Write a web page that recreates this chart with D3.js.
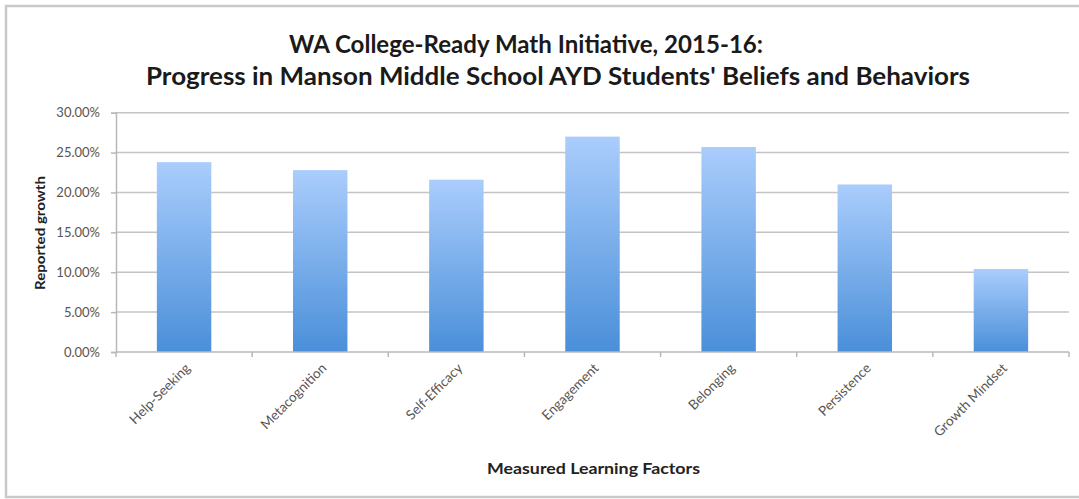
<!DOCTYPE html>
<html>
<head>
<meta charset="utf-8">
<script src="https://cdn.jsdelivr.net/npm/d3@7"></script>
<style>
  html, body { margin: 0; padding: 0; background: #fff; }
  svg { display: block; }
</style>
</head>
<body>
<svg id="chart" width="1079" height="499"></svg>
<script>
// Growth reported per learning factor
const categories = ["Help-Seeking", "Metacognition", "Self-Efficacy", "Engagement", "Belonging", "Persistence", "Growth Mindset"];
const growth = [0.238, 0.228, 0.216, 0.270, 0.257, 0.210, 0.104];
const yTicks = [0, 0.05, 0.10, 0.15, 0.20, 0.25, 0.30];
const titleLines = ["WA College-Ready Math Initiative, 2015-16:", "Progress in Manson Middle School AYD Students' Beliefs and Behaviors"];
const xTitle = "Measured Learning Factors";
const yTitle = "Reported growth";

const svg = d3.select("#chart");
const font = "Lato, 'Open Sans', sans-serif";

const plot = { left: 116, right: 1069, top: 112.7, bottom: 352 };

// outer chart frame
svg.append("rect")
  .attr("x", 6).attr("y", 6)
  .attr("width", 1090).attr("height", 491)
  .attr("fill", "#fff")
  .attr("stroke", "#c9c9c9").attr("stroke-width", 2.5);

const defs = svg.append("defs");
const grad = defs.append("linearGradient")
  .attr("id", "barFill").attr("x1", 0).attr("y1", 0).attr("x2", 0).attr("y2", 1);
grad.append("stop").attr("offset", "0%").attr("stop-color", "#aacdfc");
grad.append("stop").attr("offset", "100%").attr("stop-color", "#4a8fd9");

const x = d3.scaleBand()
  .domain(categories)
  .range([plot.left, plot.right])
  .paddingInner(0.6)
  .paddingOuter(0.3);

const xCat = d3.scaleBand()
  .domain(categories)
  .range([plot.left, plot.right]);

const y = d3.scaleLinear()
  .domain([0, 0.30])
  .range([plot.bottom, plot.top]);

// horizontal gridlines
svg.append("g")
  .selectAll("line")
  .data(yTicks.filter(d => d > 0))
  .join("line")
  .attr("x1", plot.left).attr("x2", plot.right)
  .attr("y1", d => y(d)).attr("y2", d => y(d))
  .attr("stroke", "#c4c4c4").attr("stroke-width", 1.5);

// y axis
const yAxis = svg.append("g")
  .attr("transform", `translate(${plot.left},0)`)
  .call(d3.axisLeft(y).tickValues(yTicks).tickFormat(d3.format(".2%")).tickSize(5).tickPadding(11));
yAxis.select(".domain").attr("stroke", "#b8b8b8").attr("stroke-width", 1.5);
yAxis.selectAll(".tick line").attr("stroke", "#b8b8b8").attr("stroke-width", 1.5);
yAxis.selectAll(".tick text")
  .attr("font-family", font).attr("font-size", 13).attr("fill", "#555");

// bars
svg.append("g")
  .selectAll("rect")
  .data(categories.map((c, i) => ({ c, v: growth[i] })))
  .join("rect")
  .attr("x", d => x(d.c))
  .attr("width", x.bandwidth())
  .attr("y", d => y(d.v))
  .attr("height", d => y(0) - y(d.v))
  .attr("fill", "url(#barFill)");

// x axis with ticks on category boundaries
const xAxis = svg.append("g")
  .attr("transform", `translate(0,${plot.bottom})`);
xAxis.append("line")
  .attr("x1", plot.left).attr("x2", plot.right)
  .attr("stroke", "#b8b8b8").attr("stroke-width", 1.5);
xAxis.selectAll("line.tk")
  .data(categories.map(c => xCat(c)).concat([plot.right]))
  .join("line").attr("class", "tk")
  .attr("x1", d => d).attr("x2", d => d)
  .attr("y1", 0).attr("y2", 5)
  .attr("stroke", "#b8b8b8").attr("stroke-width", 1.5);
xAxis.selectAll("text")
  .data(categories)
  .join("text")
  .attr("transform", d => `translate(${xCat(d) + xCat.bandwidth() / 2 + 7},${17}) rotate(-45)`)
  .attr("text-anchor", "end")
  .attr("font-family", font).attr("font-size", 13.5).attr("fill", "#555")
  .text(d => d);

// titles
const titleSpans = [[289, 763], [146, 970]];
svg.append("g")
  .selectAll("text")
  .data(titleLines)
  .join("text")
  .attr("x", (d, i) => titleSpans[i][0])
  .attr("y", (d, i) => 53 + i * 32)
  .attr("textLength", (d, i) => titleSpans[i][1] - titleSpans[i][0])
  .attr("lengthAdjust", "spacingAndGlyphs")
  .attr("font-family", font).attr("font-weight", "bold").attr("font-size", 25)
  .attr("fill", "#1a1a1a")
  .text(d => d);

svg.append("text")
  .attr("x", 487).attr("y", 474)
  .attr("textLength", 213)
  .attr("lengthAdjust", "spacingAndGlyphs")
  .attr("font-family", font).attr("font-weight", "bold").attr("font-size", 15.5)
  .attr("fill", "#222")
  .text(xTitle);

svg.append("text")
  .attr("transform", `translate(45,290) rotate(-90)`)
  .attr("textLength", 114)
  .attr("lengthAdjust", "spacingAndGlyphs")
  .attr("font-family", font).attr("font-weight", "bold").attr("font-size", 13)
  .attr("fill", "#222")
  .text(yTitle);
</script>
</body>
</html>
